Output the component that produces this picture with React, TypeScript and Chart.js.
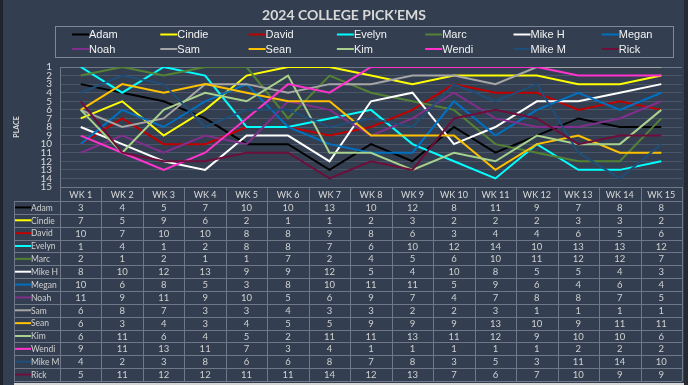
import { useEffect, useRef } from "react";
import { Chart, registerables } from "chart.js";

Chart.register(...registerables);

const W = 688;
const H = 385;

const title = "2024 COLLEGE PICK\u2019EMS";
const yAxisTitle = "PLACE";
const weeks = ["WK 1", "WK 2", "WK 3", "WK 4", "WK 5", "WK 6", "WK 7", "WK 8", "WK 9", "WK 10", "WK 11", "WK 12", "WK 13", "WK 14", "WK 15"];
const places = [1, 15];

const players = ["Adam", "Cindie", "David", "Evelyn", "Marc", "Mike H", "Megan", "Noah", "Sam", "Sean", "Kim", "Wendi", "Mike M", "Rick"];

const adam = [3, 4, 5, 7, 10, 10, 13, 10, 12, 8, 11, 9, 7, 8, 8];
const cindie = [7, 5, 9, 6, 2, 1, 1, 2, 3, 2, 2, 2, 3, 3, 2];
const david = [10, 7, 10, 10, 8, 8, 9, 8, 6, 3, 4, 4, 6, 5, 6];
const evelyn = [1, 4, 1, 2, 8, 8, 7, 6, 10, 12, 14, 10, 13, 13, 12];
const marc = [2, 1, 2, 1, 1, 7, 2, 4, 5, 6, 10, 11, 12, 12, 7];
const mikeH = [8, 10, 12, 13, 9, 9, 12, 5, 4, 10, 8, 5, 5, 4, 3];
const megan = [10, 6, 8, 5, 3, 8, 10, 11, 11, 5, 9, 6, 4, 6, 4];
const noah = [11, 9, 11, 9, 10, 5, 6, 9, 7, 4, 7, 8, 8, 7, 5];
const sam = [6, 8, 7, 3, 3, 4, 3, 3, 2, 2, 3, 1, 1, 1, 1];
const sean = [6, 3, 4, 3, 4, 5, 5, 9, 9, 9, 13, 10, 9, 11, 11];
const kim = [6, 11, 6, 4, 5, 2, 11, 11, 13, 11, 12, 9, 10, 10, 6];
const wendi = [9, 11, 13, 11, 7, 3, 4, 1, 1, 1, 1, 1, 2, 2, 2];
const mikeM = [4, 2, 3, 8, 6, 6, 8, 7, 8, 3, 5, 3, 11, 14, 10];
const rick = [5, 11, 12, 12, 11, 11, 14, 12, 13, 7, 6, 7, 10, 9, 9];

const series = [adam, cindie, david, evelyn, marc, mikeH, megan, noah, sam, sean, kim, wendi, mikeM, rick];

const colors = ["#000000", "#FFFF00", "#C00000", "#00FFFF", "#548235", "#FFFFFF", "#0070C0", "#812F8C", "#A6A6A6", "#FFC000", "#A9D18E", "#FF33CC", "#1F4E79", "#6D0E3B"];

const BG = "#333F50";
const TEXT = "#D9D9D9";
const GRID = "#4B5768";
const LINE = "#6E7888";
const TICK_FONT = "Lato, 'Open Sans', sans-serif";

const decorPlugin = {
  id: "decor",
  beforeDraw(chart: any) {
    const ctx = chart.ctx as CanvasRenderingContext2D;
    ctx.save();
    ctx.fillStyle = BG;
    ctx.fillRect(0, 0, W, H);
    ctx.fillStyle = "#20252D";
    ctx.fillRect(0, 0, 3, H);
    ctx.fillStyle = "#262B33";
    ctx.fillRect(W - 4, 0, 4, H);
    ctx.fillStyle = "#D6D6D6";
    ctx.fillRect(14, H - 2, W - 18, 2);
    ctx.restore();
  },
  afterDraw(chart: any) {
    const ctx = chart.ctx as CanvasRenderingContext2D;
    const area = chart.chartArea;
    const x = chart.scales.x;
    ctx.save();

    // Title
    ctx.fillStyle = TEXT;
    ctx.font = "bold 14px Lato, 'Open Sans', sans-serif";
    ctx.textAlign = "center";
    ctx.textBaseline = "middle";
    ctx.fillText(title, W / 2, 15);

    // Legend box
    ctx.strokeStyle = "#7F8896";
    ctx.lineWidth = 1;
    ctx.strokeRect(55.5, 26.5, 618, 31);
    ctx.font = "11px 'Liberation Sans', Arial, sans-serif";
    ctx.textAlign = "left";
    players.forEach((name, i) => {
      const col = i % 7;
      const row = Math.floor(i / 7);
      const lx = 72 + col * 88.3;
      const ly = 34.5 + row * 14.5;
      ctx.strokeStyle = colors[i];
      ctx.lineWidth = 2;
      ctx.beginPath();
      ctx.moveTo(lx, ly);
      ctx.lineTo(lx + 17, ly);
      ctx.stroke();
      ctx.fillStyle = "#F2F2F2";
      ctx.fillText(name, lx + 17, ly + 0.5);
    });

    // Data table
    const tableTop = 201;
    const rowH = 12.857;
    const tableBottom = tableTop + rowH * players.length;
    const tableLeft = 14;
    ctx.strokeStyle = LINE;
    ctx.lineWidth = 1;
    ctx.beginPath();
    for (let r = 0; r <= players.length; r++) {
      const yy = Math.round(tableTop + r * rowH) + 0.5;
      ctx.moveTo(tableLeft, yy);
      ctx.lineTo(area.right, yy);
    }
    ctx.moveTo(tableLeft + 0.5, tableTop);
    ctx.lineTo(tableLeft + 0.5, tableBottom);
    const bounds: number[] = [area.left];
    for (let i = 1; i < weeks.length; i++) {
      bounds.push((x.getPixelForValue(i - 1) + x.getPixelForValue(i)) / 2);
    }
    bounds.push(area.right);
    bounds.forEach((b, i) => {
      const bx = Math.round(b) + 0.5;
      ctx.moveTo(bx, i === 0 ? area.top : area.bottom);
      ctx.lineTo(bx, tableBottom);
    });
    ctx.stroke();

    ctx.textBaseline = "middle";
    players.forEach((name, r) => {
      const cy = tableTop + (r + 0.5) * rowH;
      ctx.strokeStyle = colors[r];
      ctx.lineWidth = 2;
      ctx.beginPath();
      ctx.moveTo(15, cy);
      ctx.lineTo(31, cy);
      ctx.stroke();
      ctx.fillStyle = "#D0D0D0";
      ctx.font = "8.5px " + TICK_FONT;
      ctx.textAlign = "left";
      ctx.fillText(name, 31, cy + 0.5);
      ctx.font = "9.5px " + TICK_FONT;
      ctx.textAlign = "center";
      series[r].forEach((v, i) => {
        ctx.fillText(String(v), x.getPixelForValue(i), cy + 0.5);
      });
    });

    ctx.restore();
  },
};

export default function App() {
  const ref = useRef<HTMLCanvasElement | null>(null);

  useEffect(() => {
    if (!ref.current) return;
    const chart = new Chart(ref.current, {
      type: "line",
      data: {
        labels: weeks,
        datasets: players.map((name, i) => ({
          label: name,
          data: series[i],
          borderColor: colors[i],
          backgroundColor: colors[i],
          borderWidth: 2,
          pointRadius: 0,
          tension: 0,
          fill: false,
          order: players.length - 1 - i,
        })),
      },
      options: {
        responsive: false,
        animation: false,
        events: [],
        layout: { padding: { left: 0, top: 67, right: 6, bottom: 184 } },
        plugins: {
          legend: { display: false },
          title: { display: false },
          tooltip: { enabled: false },
        },
        scales: {
          x: {
            type: "category",
            offset: true,
            grid: { display: false, drawTicks: false },
            border: { display: false },
            ticks: {
              color: TEXT,
              padding: 3,
              font: { family: TICK_FONT, size: 9 },
              maxRotation: 0,
              autoSkip: false,
            },
            afterFit: (s: any) => {
              s.height = 14;
            },
          },
          y: {
            reverse: true,
            min: places[0],
            max: places[1],
            grid: {
              color: (c: any) => (c.tick && (c.tick.value === 1 || c.tick.value === 15) ? LINE : GRID),
              drawTicks: false,
            },
            border: { display: true, color: LINE },
            ticks: {
              stepSize: 1,
              color: TEXT,
              padding: 8,
              font: { family: TICK_FONT, size: 10 },
              autoSkip: false,
            },
            title: {
              display: true,
              text: yAxisTitle,
              color: TEXT,
              font: { family: TICK_FONT, size: 7, weight: "bold" },
              padding: { top: 13, bottom: 0 },
            },
            afterFit: (s: any) => {
              s.width = 60;
            },
          },
        },
      },
      plugins: [decorPlugin],
    });
    return () => chart.destroy();
  }, []);

  return (
    <div style={{ position: "fixed", left: 0, top: 0, width: W, height: H }}>
      <canvas ref={ref} width={W} height={H} style={{ display: "block" }} />
    </div>
  );
}
